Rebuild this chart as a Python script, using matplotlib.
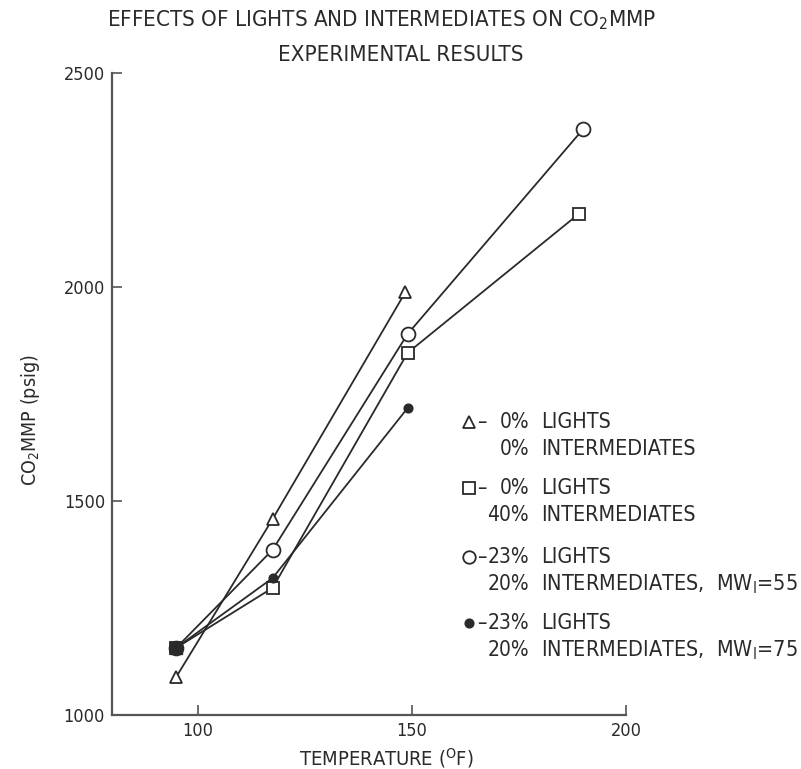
import matplotlib.pyplot as plt
from matplotlib import font_manager
import numpy as np

# CO2 MMP vs temperature
temp_tri = [95, 117.5, 148.5]
mmp_tri = [1089, 1458, 1988]

temp_sq = [95, 117.5, 149, 189]
mmp_sq = [1157, 1297, 1846, 2171]

temp_circ = [95, 117.5, 149, 190]
mmp_circ = [1157, 1386, 1890, 2369]

temp_fill = [95, 117.5, 149]
mmp_fill = [1157, 1320, 1717]

x_ticks = [100, 150, 200]
y_ticks = [1000, 1500, 2000, 2500]

# narrow lettering like the typed original, if a condensed face exists
names = {f.name for f in font_manager.fontManager.ttflist}
cond = [f for f in font_manager.fontManager.ttflist
        if f.name == 'DejaVu Sans' and 'ondensed' in f.fname]
if 'Liberation Sans Narrow' in names:
    plt.rcParams['font.family'] = ['Liberation Sans Narrow', 'DejaVu Sans']
elif cond:
    plt.rcParams['font.family'] = ['DejaVu Sans']
    plt.rcParams['font.stretch'] = 'condensed'
else:
    plt.rcParams['font.family'] = ['Liberation Sans', 'DejaVu Sans']
plt.rcParams['mathtext.fontset'] = 'custom'
plt.rcParams['mathtext.rm'] = plt.rcParams['font.family'][0]
plt.rcParams['mathtext.it'] = plt.rcParams['font.family'][0]

ink = '#2a2a2a'
W, H = 801, 769

fig = plt.figure(figsize=(W / 100, H / 100), dpi=100)
ax = fig.add_axes([112 / W, 1 - 715 / H, (626 - 112) / W, (715 - 73) / H])

kw = dict(color=ink, lw=1.3, mew=1.3)
ax.plot(temp_sq, mmp_sq, marker='s', ms=9, mfc='white', **kw)
ax.plot(temp_circ, mmp_circ, marker='o', ms=10, mfc='white', **kw)
ax.plot(temp_tri, mmp_tri, marker='^', ms=9, mfc='white', **kw)
ax.plot(temp_fill, mmp_fill, marker='o', ms=6, mfc=ink, **kw)
# dark overlap of markers at 95 F
ax.plot([temp_fill[0]], [mmp_fill[0]], marker='s', ms=9, color=ink, ls='none')

ax.set_xlim(80, 200)
ax.set_ylim(1000, 2500)
ax.set_xticks(x_ticks)
ax.set_yticks(y_ticks)
for s in ['top', 'right']:
    ax.spines[s].set_visible(False)
for s in ['left', 'bottom']:
    ax.spines[s].set_color('#555555')
    ax.spines[s].set_linewidth(1.6)
ax.tick_params(direction='in', length=7, width=1.2, color='#555555',
               labelsize=13, labelcolor=ink, pad=5)

fig.text(386 / W, 1 - 758 / H, 'TEMPERATURE ($^{O}$F)', ha='center', va='center',
         fontsize=14.5, color=ink)
fig.text(30 / W, 1 - 420 / H, 'CO$_2$MMP (psig)', ha='center', va='center',
         rotation=90, fontsize=14, color=ink)

fig.text(382 / W, 1 - 20 / H, 'EFFECTS OF LIGHTS AND INTERMEDIATES ON CO$_2$MMP',
         ha='center', va='center', fontsize=16, color=ink)
fig.text(401 / W, 1 - 55 / H, 'EXPERIMENTAL RESULTS',
         ha='center', va='center', fontsize=16, color=ink)

# legend written out by hand like the original
legend_rows = [
    ('^', 'white', 9, '0%', '0%', 'INTERMEDIATES', 422),
    ('s', 'white', 9, '0%', '40%', 'INTERMEDIATES', 488),
    ('o', 'white', 9, '23%', '20%', 'INTERMEDIATES,  MW$_{I}$=55', 557),
    ('o', ink, 6, '23%', '20%', 'INTERMEDIATES,  MW$_{I}$=75', 623),
]
for mk, fc, ms, pct1, pct2, txt2, y in legend_rows:
    ax.plot([469 / W], [1 - y / H], marker=mk, ms=ms, mfc=fc, mec=ink, mew=1.3,
            transform=fig.transFigure, clip_on=False)
    fig.text(477 / W, 1 - y / H, '\u2013', ha='left', va='center', fontsize=15, color=ink)
    fig.text(529 / W, 1 - y / H, pct1, ha='right', va='center', fontsize=15, color=ink)
    fig.text(541 / W, 1 - y / H, 'LIGHTS', ha='left', va='center', fontsize=15.5, color=ink)
    fig.text(529 / W, 1 - (y + 27) / H, pct2, ha='right', va='center', fontsize=15, color=ink)
    fig.text(541 / W, 1 - (y + 27) / H, txt2, ha='left', va='center', fontsize=15.5, color=ink)

fig.savefig('out.png', dpi=100)
